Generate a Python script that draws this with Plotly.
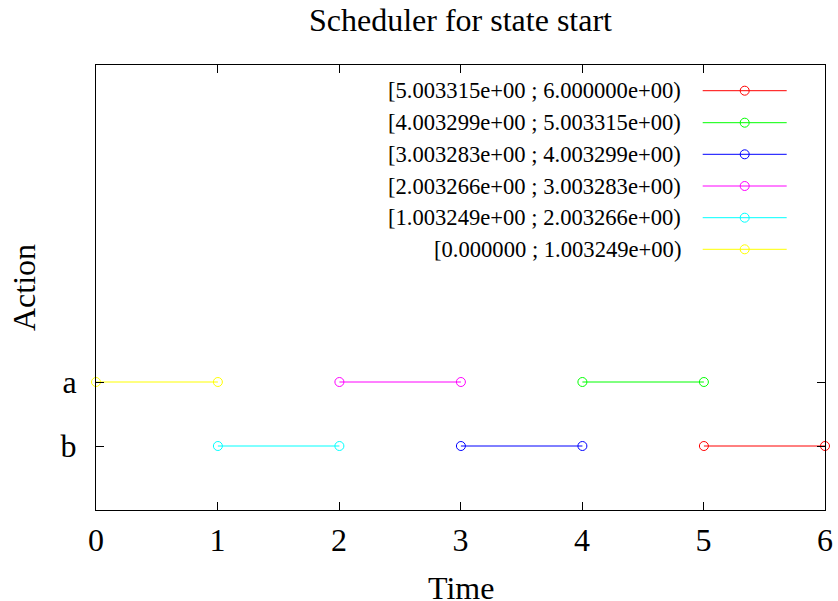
import plotly.graph_objects as go

# ---- data ----
starts = [0.0, 1.003249, 2.003266, 3.003283, 4.003299, 5.003315]
ends = [1.003249, 2.003266, 3.003283, 4.003299, 5.003315, 6.0]
actions = ["a", "b", "a", "b", "a", "b"]
labels = [
    "[0.000000 ; 1.003249e+00)",
    "[1.003249e+00 ; 2.003266e+00)",
    "[2.003266e+00 ; 3.003283e+00)",
    "[3.003283e+00 ; 4.003299e+00)",
    "[4.003299e+00 ; 5.003315e+00)",
    "[5.003315e+00 ; 6.000000e+00)",
]
colors = ["#ffff00", "#00ffff", "#ff00ff", "#0000ff", "#00ff00", "#ff0000"]
x_ticks = [0, 1, 2, 3, 4, 5, 6]
y_categories = ["b", "a"]

FONT = "Liberation Serif, Times New Roman, serif"
W, H = 838, 601
L, R, T, B = 96, 13, 65, 91
PW, PH = W - L - R, H - T - B


def px_x(p):
    return (p - L) / PW


def px_y(p):
    return (H - B - p) / PH


fig = go.Figure()

for s, e, a, c, lab in zip(starts, ends, actions, colors, labels):
    fig.add_trace(go.Scatter(
        x=[s, e], y=[a, a], mode="lines+markers",
        line=dict(color=c, width=1),
        marker=dict(symbol="circle-open", size=9, color=c, line=dict(width=1, color=c)),
        cliponaxis=False, showlegend=False, name=lab,
    ))

# custom gnuplot-style key (text left, sample right), top to bottom = last series first
row_y = [90.7, 122.7, 154.3, 186.0, 217.7, 249.3]
annotations = []
for i, idx in enumerate(reversed(range(len(labels)))):
    yy = px_y(row_y[i])
    fig.add_trace(go.Scatter(
        x=[px_x(702.7), px_x(786.7)], y=[yy, yy], mode="lines",
        line=dict(color=colors[idx], width=1), xaxis="x2", yaxis="y2",
        showlegend=False, hoverinfo="skip",
    ))
    fig.add_trace(go.Scatter(
        x=[px_x(744.7)], y=[yy], mode="markers",
        marker=dict(symbol="circle-open", size=9, color=colors[idx], line=dict(width=1, color=colors[idx])),
        xaxis="x2", yaxis="y2", showlegend=False, hoverinfo="skip",
    ))
    annotations.append(dict(
        x=px_x(683), y=yy, xref="paper", yref="paper", xanchor="right", yanchor="middle",
        text=labels[idx], showarrow=False, font=dict(family=FONT, size=22.6, color="black"),
    ))

# axis titles
annotations.append(dict(
    x=px_x(460.5), y=px_y(588), xref="paper", yref="paper", xanchor="center", yanchor="middle",
    text="Time", showarrow=False, font=dict(family=FONT, size=32, color="black"),
))
annotations.append(dict(
    x=px_x(24), y=px_y(288), xref="paper", yref="paper", xanchor="center", yanchor="middle",
    text="Action", textangle=-90, showarrow=False, font=dict(family=FONT, size=32, color="black"),
))

axis_common = dict(
    showgrid=False, zeroline=False, showline=True, linecolor="black", linewidth=1,
    mirror="ticks", ticks="inside", ticklen=8, tickwidth=1, tickcolor="black",
    tickfont=dict(family=FONT, size=32, color="black"), automargin=False,
)

fig.update_layout(
    width=W, height=H,
    margin=dict(l=L, r=R, t=T, b=B),
    paper_bgcolor="white", plot_bgcolor="white",
    title=dict(text="Scheduler for state start", x=0.5, xref="paper", xanchor="center",
               y=(H - 20) / H, yref="container", yanchor="middle",
               font=dict(family=FONT, size=32, color="black")),
    xaxis=dict(range=[0, 6], tickvals=x_ticks, ticklabelstandoff=2, **axis_common),
    yaxis=dict(type="category", categoryorder="array", categoryarray=y_categories,
               range=[-1, 5.953], ticklabelstandoff=12, **axis_common),
    xaxis2=dict(range=[0, 1], overlaying="x", visible=False, fixedrange=True),
    yaxis2=dict(range=[0, 1], overlaying="y", visible=False, fixedrange=True),
    annotations=annotations,
)

fig.write_html(
    "out.html",
    config={"displayModeBar": False},
    post_script="document.body.style.margin='0';document.body.style.overflow='hidden';",
)
